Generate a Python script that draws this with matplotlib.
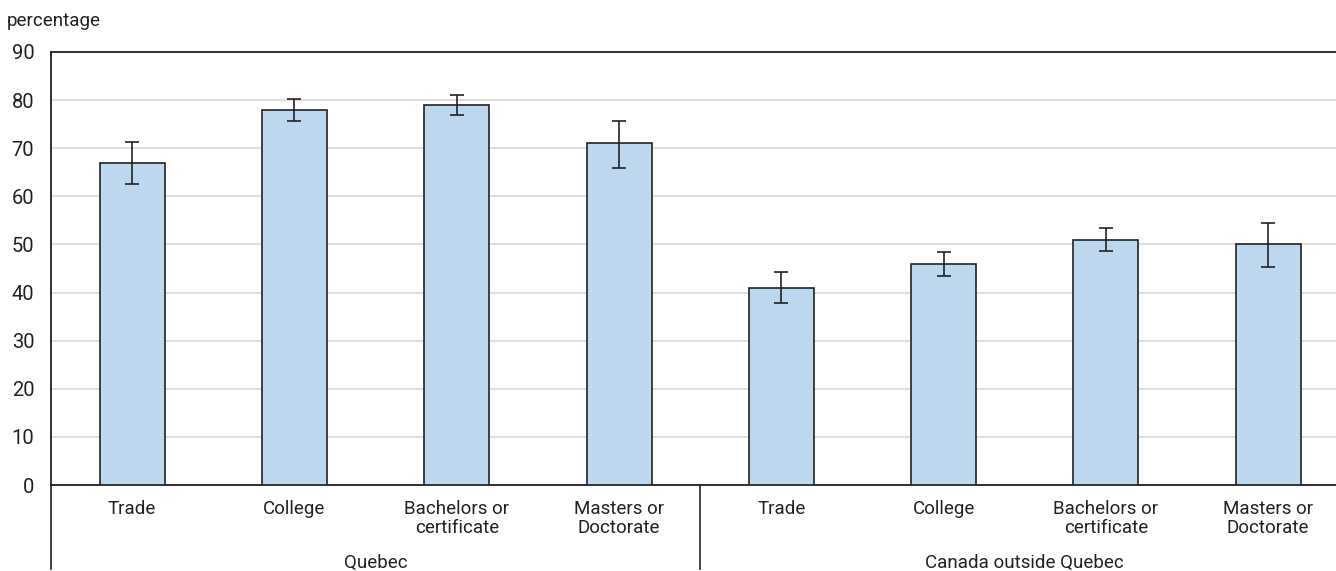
import numpy as np
import matplotlib.pyplot as plt

plt.rcParams['font.family'] = ['Roboto', 'DejaVu Sans']

groups = ['Quebec', 'Canada outside Quebec']
levels = ['Trade', 'College', 'Bachelors or\ncertificate', 'Masters or\nDoctorate']
quebec = [67, 78, 79, 71]
quebec_low = [62.5, 75.6, 76.8, 65.8]
quebec_high = [71.2, 80.2, 81.0, 75.6]
canada = [41, 46, 51, 50]
canada_low = [37.9, 43.5, 48.6, 45.4]
canada_high = [44.2, 48.4, 53.4, 54.5]

values = np.array(quebec + canada)
low = np.array(quebec_low + canada_low)
high = np.array(quebec_high + canada_high)
x = np.arange(len(values))

fig = plt.figure(figsize=(13.36, 5.71), dpi=100)
# axes runs slightly past the right edge of the image, as in the original
ax = fig.add_axes([0.0382, 0.1506, 0.9718, 0.7584])

ax.bar(x, values, width=0.4, color='#bdd7ee', edgecolor='#222222', linewidth=1.2, zorder=3)
ax.errorbar(x, values, yerr=[values - low, high - values], fmt='none',
            ecolor='#222222', elinewidth=1.2, capsize=5, capthick=1.2, zorder=4)

ax.set_xlim(-0.5, len(values) - 0.5)
ax.set_ylim(0, 90)
ax.set_yticks(range(0, 91, 10))
ax.yaxis.grid(True, color='#d9d9d9', linewidth=1.2, zorder=0)
ax.tick_params(axis='y', length=0, labelsize=14.5, pad=12, labelcolor='#222222')
ax.set_xticks(x)
ax.set_xticklabels(levels * 2, fontsize=13.5, color='#222222', linespacing=1.05, va='top')
ax.tick_params(axis='x', length=0, pad=11)
for s in ['top', 'left', 'bottom']:
    ax.spines[s].set_color('#222222')
    ax.spines[s].set_linewidth(1.3)
ax.spines['right'].set_visible(False)

# group separators below the axis
for xv in [-0.5, 3.5]:
    ax.plot([xv, xv], [0, -0.195], transform=ax.get_xaxis_transform(),
            color='#222222', linewidth=1.2, clip_on=False)
for i, g in enumerate(groups):
    ax.text(1.5 + 4 * i, -0.18, g, transform=ax.get_xaxis_transform(),
            ha='center', va='center', fontsize=13.5, color='#222222')

fig.text(0.005, 0.963, 'percentage', fontsize=13.5, color='#222222', va='center')

fig.savefig('out.png', dpi=100)
